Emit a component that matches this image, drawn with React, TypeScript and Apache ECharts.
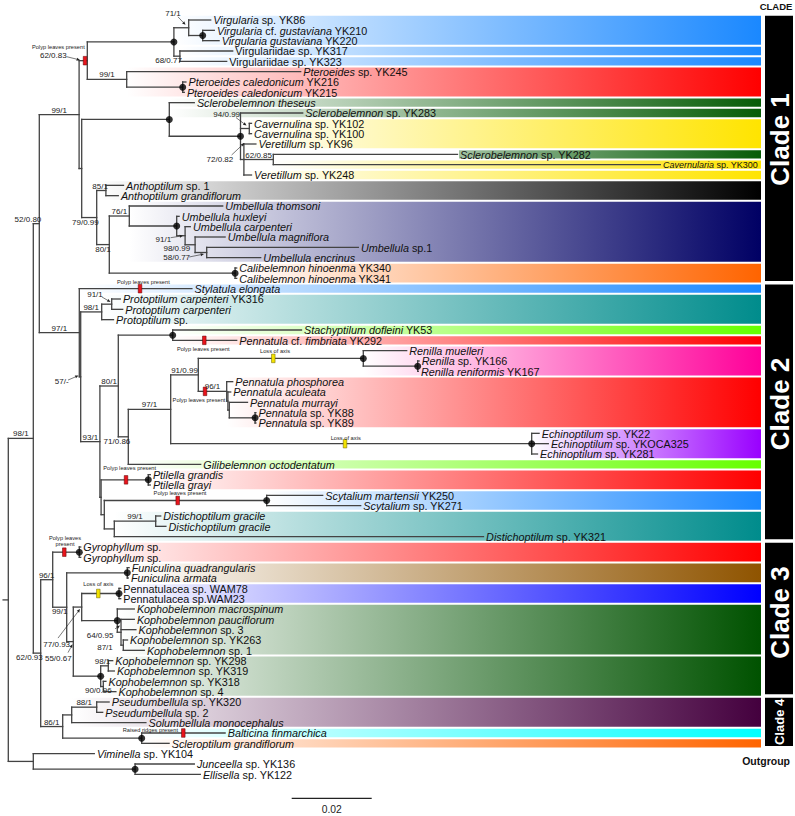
import React, { useEffect, useRef } from 'react';
import * as echarts from 'echarts';

const FONT = '"Liberation Sans", Arial, Helvetica, sans-serif';

// ---------------- data ----------------
// taxon labels (text between * * is italic)
const LEAF_NAMES = [
  '*Virgularia* sp. YK86', '*Virgularia* cf. *gustaviana* YK210', '*Virgularia gustaviana* YK220',
  'Virgulariidae sp. YK317', 'Virgulariidae sp. YK323', '*Pteroeides* sp. YK245',
  '*Pteroeides caledonicum* YK216', '*Pteroeides caledonicum* YK215', '*Sclerobelemnon theseus*',
  '*Sclerobelemnon* sp. YK283', '*Cavernulina* sp. YK102', '*Cavernulina* sp. YK100',
  '*Veretillum* sp. YK96', '*Sclerobelemnon* sp. YK282', '*Cavernularia* sp. YK300',
  '*Veretillum* sp. YK248', '*Anthoptilum* sp. 1', '*Anthoptilum grandiflorum*',
  '*Umbellula thomsoni*', '*Umbellula huxleyi*', '*Umbellula carpenteri*',
  '*Umbellula magniflora*', '*Umbellula* sp.1', '*Umbellula encrinus*',
  '*Calibelemnon hinoenma* YK340', '*Calibelemnon hinoenma* YK341', '*Stylatula elongata*',
  '*Protoptilum carpenteri* YK316', '*Protoptilum carpenteri*', '*Protoptilum* sp.',
  '*Stachyptilum dofleini* YK53', '*Pennatula* cf. *fimbriata* YK292', '*Renilla muelleri*',
  '*Renilla* sp. YK166', '*Renilla reniformis* YK167', '*Pennatula phosphorea*',
  '*Pennatula aculeata*', '*Pennatula murrayi*', '*Pennatula* sp. YK88',
  '*Pennatula* sp. YK89', '*Echinoptilum* sp. YK22', '*Echinoptilum* sp. YKOCA325',
  '*Echinoptilum* sp. YK281', '*Gilibelemnon octodentatum*', '*Ptilella grandis*',
  '*Ptilella grayi*', '*Scytalium martensii* YK250', '*Scytalium* sp. YK271',
  '*Distichoptilum gracile*', '*Distichoptilum gracile*', '*Distichoptilum* sp. YK321',
  '*Gyrophyllum* sp.', '*Gyrophyllum* sp.', '*Funiculina quadrangularis*',
  '*Funiculina armata*', 'Pennatulacea sp. WAM78', 'Pennatulacea sp.WAM23',
  '*Kophobelemnon macrospinum*', '*Kophobelemnon pauciflorum*', '*Kophobelemnon* sp. 3',
  '*Kophobelemnon* sp. YK263', '*Kophobelemnon* sp. 1', '*Kophobelemnon* sp. YK298',
  '*Kophobelemnon* sp. YK319', '*Kophobelemnon* sp. YK318', '*Kophobelemnon* sp. 4',
  '*Pseudumbellula* sp. YK320', '*Pseudumbellula* sp. 2', '*Solumbellula monocephalus*',
  '*Balticina finmarchica*', '*Scleroptilum grandiflorum*', '*Viminella* sp. YK104',
  '*Junceella* sp. YK136', '*Ellisella* sp. YK122',
];

// distance from the root (substitutions/site) at each tip
const LEAF_DEPTH = [
  0.0506, 0.0515, 0.0527, 0.0561, 0.0546, 0.0731, 0.0444, 0.0440, 0.0465, 0.0736,
  0.0608, 0.0608, 0.0619, 0.1123, 0.1630, 0.0608, 0.0288, 0.0275, 0.0536, 0.0427,
  0.0455, 0.0542, 0.0875, 0.0631, 0.0571, 0.0571, 0.0459, 0.0280, 0.0286, 0.0263,
  0.0733, 0.0571, 0.0996, 0.1027, 0.1025, 0.0561, 0.0556, 0.0598, 0.0619, 0.0619,
  0.1327, 0.1350, 0.1323, 0.0481, 0.0355, 0.0355, 0.0786, 0.0881, 0.0381, 0.0394,
  0.1188, 0.0181, 0.0181, 0.0302, 0.0300, 0.0281, 0.0281, 0.0315, 0.0315, 0.0319,
  0.0298, 0.0340, 0.0261, 0.0265, 0.0244, 0.0269, 0.0252, 0.0236, 0.0344, 0.0542,
  0.0402, 0.0215, 0.0465, 0.0480,
];

const LEAF_PARENT = [
  'VA', 'VA2', 'VA2', 'VB', 'VB', 'PTE', 'PC', 'PC', 'SC', 'C1',
  'CAV', 'CAV', 'N72', 'N62c', 'N62c', 'N72', 'ANT', 'ANT', 'UMB', 'U2',
  'U3', 'U4', 'U5', 'U5', 'CAL', 'CAL', 'N97', 'N91', 'N91', 'N98p',
  'STA', 'STA', 'REN', 'RP', 'RP', 'PEN', 'PX', 'PM', 'PP', 'PP',
  'ECHO', 'ECHO', 'ECHO', 'N71', 'PTI', 'PTI', 'SCY', 'SCY', 'DG', 'DG',
  'DIS', 'GYR', 'GYR', 'FUN', 'FUN', 'WAM', 'WAM', 'K1', 'K64', 'K64',
  'K87', 'K87', 'K98', 'K98', 'K90', 'K90', 'N88', 'N88', 'PS', 'BS',
  'BS', 'OUT', 'JE', 'JE',
];

// internal nodes
const NODE_IDS = [
  'R', 'N98', 'OUT', 'JE', 'N52', 'N62b', 'N99', 'N97', 'N62a', 'NX',
  'VIR', 'VA', 'VA2', 'VB', 'PTE', 'PC', 'SC', 'C1', 'CAV', 'N72',
  'N62c', 'N79', 'ANT', 'N80', 'UMB', 'U2', 'U3', 'U4', 'U5', 'CAL',
  'N57', 'N98p', 'N91', 'N93', 'N80b', 'STA', 'N71', 'N97b', 'N91b', 'REN',
  'RP', 'PEN', 'PX', 'PM', 'PP', 'ECHO', 'NPSD', 'PTI', 'NSD', 'SCY',
  'DIS', 'DG', 'N96', 'GYR', 'N99c', 'FUN', 'N55', 'N77', 'WAM', 'K1',
  'K64', 'K87', 'KG2', 'K98', 'K90', 'N86', 'PS', 'N88', 'BS',
];
const NODE_PARENT = [
  null, 'R', 'R', 'OUT', 'N98', 'N98', 'N52', 'N52', 'N99', 'N99',
  'N62a', 'VIR', 'VA', 'VIR', 'N62a', 'PTE', 'NX', 'SC', 'C1', 'C1',
  'N72', 'NX', 'N79', 'N79', 'N80', 'UMB', 'U2', 'U3', 'U4', 'N80',
  'N97', 'N57', 'N98p', 'N57', 'N93', 'N80b', 'N80b', 'N71', 'N97b', 'N91b',
  'REN', 'N91b', 'PEN', 'PX', 'PM', 'N97b', 'N93', 'NPSD', 'NPSD', 'NSD',
  'NSD', 'DIS', 'N62b', 'N96', 'N96', 'N99c', 'N99c', 'N55', 'N77', 'N77',
  'K1', 'K64', 'N55', 'KG2', 'KG2', 'N62b', 'N86', 'PS', 'N86',
];
const NODE_DEPTH = [
  0, 0.00625, 0.00625, 0.0317, 0.00775, 0.0081, 0.0177, 0.01775, 0.01975, 0.01835,
  0.0414, 0.0451, 0.0486, 0.0429, 0.0296, 0.0436, 0.04025, 0.05805, 0.06025, 0.0589,
  0.06625, 0.0221, 0.0244, 0.02525, 0.03025, 0.0421, 0.0442, 0.0467, 0.0496, 0.0567,
  0.0181, 0.02335, 0.02585, 0.0229, 0.0275, 0.0411, 0.03, 0.0406, 0.0475, 0.08875,
  0.10235, 0.0546, 0.0549, 0.05525, 0.0617, 0.13085, 0.0232, 0.035, 0.024, 0.0646,
  0.0265, 0.03685, 0.0111, 0.01775, 0.0146, 0.02975, 0.01625, 0.01835, 0.02768, 0.02725,
  0.02818, 0.02875, 0.0231, 0.025, 0.02375, 0.0136, 0.01585, 0.0221, 0.03335,
];

// nodes marked with a filled circle
const DOT_NODES = [
  'VIR', 'VA2', 'PC', 'SC', 'C1', 'U2', 'CAL', 'STA', 'REN', 'RP', 'PP', 'ECHO',
  'PTI', 'SCY', 'GYR', 'FUN', 'WAM', 'K1', 'KG2', 'BS', 'JE',
];

// support values: node, text, placement (a = above, b = below, c = callout)
const SUPPORT = [
  ['N98', '98/1', 'a'], ['N52', '52/0.80', 'a'], ['N99', '99/1', 'a'], ['N62a', '62/0.83', 'c'],
  ['VA', '71/1', 'c'], ['VB', '68/0.77', 'b'], ['PTE', '99/1', 'a'], ['CAV', '94/0.99', 'c'],
  ['N72', '72/0.82', 'c'], ['N62c', '62/0.85', 'a'], ['ANT', '85/1', 'a'], ['N79', '79/0.99', 'b'],
  ['N80', '80/1', 'b'], ['UMB', '76/1', 'a'], ['U3', '91/1', 'c'], ['U4', '98/0.99', 'c'],
  ['U5', '58/0.77', 'c'], ['N97', '97/1', 'a'], ['N91', '91/1', 'c'], ['N98p', '98/1', 'a'],
  ['N57', '57/-', 'c'], ['N93', '93/1', 'a'], ['N80b', '80/1', 'a'], ['N71', '71/0.86', 'b'],
  ['N97b', '97/1', 'a'], ['N91b', '91/0.99', 'a'], ['PEN', '96/1', 'a'], ['DG', '99/1', 'a'],
  ['N62b', '62/0.93', 'b'], ['N96', '96/1', 'a'], ['N99c', '99/1', 'b'], ['N77', '77/0.93', 'c'],
  ['N55', '55/0.67', 'c'], ['K64', '64/0.95', 'c'], ['K87', '87/1', 'c'], ['K98', '98/1', 'a'],
  ['K90', '90/0.96', 'c'], ['N86', '86/1', 'a'], ['N88', '88/1', 'a'],
];

// character changes mapped on branches: branch owner, position, kind, label
const TRAITS = [
  ['N62a', 0.01918, 'gain', 'Polyp leaves present'],
  ['L26', 0.03293, 'gain', 'Polyp leaves present'],
  ['L31', 0.0490, 'gain', 'Polyp leaves present'],
  ['REN', 0.06625, 'loss', 'Loss of axis'],
  ['PEN', 0.04918, 'gain', 'Polyp leaves present'],
  ['ECHO', 0.08418, 'loss', 'Loss of axis'],
  ['PTI', 0.02943, 'gain', 'Polyp leaves present'],
  ['SCY', 0.04235, 'gain', 'Polyp leaves present'],
  ['GYR', 0.0140, 'gain', 'Polyp leaves\npresent'],
  ['WAM', 0.0225, 'loss', 'Loss of axis'],
  ['L69', 0.04375, 'gain', 'Raised ridges present'],
];

// coloured taxon bands: first tip, last tip, colour, node where the band starts
const BANDS = [
  [0, 2, '#1a88ff', 'VIR'], [3, 3, '#1a88ff', 'VB'], [4, 4, '#1a88ff', 'VB'],
  [5, 7, '#ff0000', 'PTE'], [8, 8, '#075c07', 'SC'], [9, 9, '#075c07', 'SC'],
  [10, 12, '#ffe400', 'C1'], [13, 13, '#075c07', 'N62c'], [14, 14, '#ffe400', 'N62c'],
  [15, 15, '#ffe400', 'N72'], [16, 17, '#000000', 'N79'], [18, 23, '#000064', 'UMB'],
  [24, 25, '#ff6400', 'CAL'], [26, 26, '#1a88ff', 'N97'], [27, 29, '#008c8c', 'N98p'],
  [30, 30, '#66ff00', 'STA'], [31, 31, '#ff0000', 'STA'], [32, 34, '#ff0099', 'REN'],
  [35, 39, '#ff0000', 'PEN'], [40, 42, '#9900ff', 'ECHO'], [43, 43, '#66ff00', 'N71'],
  [44, 45, '#ff0000', 'PTI'], [46, 47, '#1a88ff', 'SCY'], [48, 50, '#008c8c', 'DIS'],
  [51, 52, '#ff0000', 'GYR'], [53, 54, '#8f5400', 'FUN'], [55, 56, '#0000ff', 'WAM'],
  [57, 61, '#005200', 'K1'], [62, 65, '#005200', 'KG2'], [66, 68, '#44003e', 'PS'],
  [69, 69, '#00ffff', 'BS'], [70, 70, '#ff6400', 'BS'],
];

const CLADES = [['Clade 1', 0, 25], ['Clade 2', 26, 50], ['Clade 3', 51, 65], ['Clade 4', 66, 70]];
const SCALE_LEN = 0.02;
const SCALE_LABEL = '0.02';

// ---------------- styling / placement ----------------
const X_MAX = 0.188175;
const ROOT_STUB = -0.0013;
const LINE_COLOR = '#434343';
const LINE_W = 1.3;
const LEAF_FONT = 10.8;
const LEAF_FONT_OVERRIDE: Record<number, number> = { 14: 9 };
const SUPPORT_FONT = 8;
const TRAIT_FONT = 5.7;
// bands whose visible part begins after the tip label's branch end (index into BANDS)
const BAND_VISIBLE_FROM_TIP: Record<number, boolean> = { 7: true };
// callout placement: label centre offset [dx,dy] and arrow [x1,y1,x2,y2] (px, relative to node)
const CALLOUT: Record<string, { l: number[]; a?: number[] }> = {
  VA: { l: [-15.7, -13.9], a: [-10.7, -10.9, -3.2, -2.9] },
  N62a: { l: [-34, -5], a: [-20.6, -4, -7.3, -0.7] },
  CAV: { l: [-22.6, -13.9], a: [-13.3, -10.9, -2.8, -2.9] },
  N72: { l: [-24, -0.2], a: [-12.3, -4.5, 0.5, -16.5] },
  U3: { l: [-21.7, 3.3], a: [-14.5, 2, -2, 0] },
  U4: { l: [-18.3, 3.6] },
  U5: { l: [-30, 4.8], a: [-17.5, 4.5, -2.7, 1.5] },
  N91: { l: [-16.7, -9.2], a: [-9.8, -7.2, -1.2, -2.2] },
  N57: { l: [-19, 5], a: [-12.7, 3.3, -2.2, -1.2] },
  N77: { l: [-25, 37], a: [-23.7, 31, -1.7, 2] },
  N55: { l: [-15, 16.4], a: [-5.3, 11, -0.8, 2.7] },
  K64: { l: [-21, 3.3], a: [-6, -3.4, -1, -6.7] },
  K87: { l: [-18.3, 2.2] },
  K90: { l: [-5, 3.9] },
};
const TRAIT_LABEL_OFFSET = [
  [-26.7, -14], [3.3, -6.7], [-1, 8.3], [1.7, -7.6], [-6, 8.6], [0.7, -6],
  [3.7, -11.5], [2.3, -7.7], [0.7, -11.4], [0, -9.2], [-33, -3],
];
const CLADE_FONT = [26, 26, 26, 13];
const CLADE_TEXT_SHIFT = [-9, -8, -6, 0];
const SCALE_X0 = 0.07085;
const SCALE_Y = 75.32;

// ---------------- helpers ----------------
type NodeInfo = { depth: number; parent: string | null; children: string[]; y: number; leaf: boolean };

function buildTree() {
  const info = new Map<string, NodeInfo>();
  NODE_IDS.forEach((id, k) =>
    info.set(id, { depth: NODE_DEPTH[k], parent: NODE_PARENT[k], children: [], y: NaN, leaf: false })
  );
  LEAF_NAMES.forEach((_, i) =>
    info.set('L' + i, { depth: LEAF_DEPTH[i], parent: LEAF_PARENT[i], children: [], y: i, leaf: true })
  );
  info.forEach((v, k) => {
    if (v.parent) info.get(v.parent)!.children.push(k);
  });
  const yOf = (id: string): number => {
    const n = info.get(id)!;
    if (!isNaN(n.y)) return n.y;
    const ys = n.children.map(yOf);
    n.y = (Math.min(...ys) + Math.max(...ys)) / 2;
    return n.y;
  };
  yOf('R');
  return info;
}

let measureCtx: CanvasRenderingContext2D | null = null;
function textWidth(t: string, size: number) {
  if (!measureCtx) measureCtx = document.createElement('canvas').getContext('2d');
  if (!measureCtx) return t.length * size * 0.5;
  measureCtx.font = `${size}px ${FONT}`;
  return measureCtx.measureText(t).width;
}

function toRich(s: string) {
  return s.replace(/\*([^*]+)\*/g, '{i|$1}');
}

function arrowEls(x1: number, y1: number, x2: number, y2: number) {
  const dx = x2 - x1, dy = y2 - y1;
  const len = Math.hypot(dx, dy) || 1;
  const ux = dx / len, uy = dy / len;
  const bx = x2 - ux * 3.4, by = y2 - uy * 3.4;
  const px = -uy * 1.5, py = ux * 1.5;
  return [
    { type: 'line', shape: { x1, y1, x2: bx, y2: by }, style: { stroke: '#222', lineWidth: 0.6 } },
    { type: 'polygon', shape: { points: [[x2, y2], [bx + px, by + py], [bx - px, by - py]] }, style: { fill: '#222' } },
  ];
}

function buildOption() {
  const info = buildTree();

  // branch segments [x1, y1, x2, y2]
  const segs: number[][] = [];
  info.forEach((n) => {
    const pd = n.parent ? info.get(n.parent)!.depth : ROOT_STUB;
    segs.push([pd, n.y, n.depth, n.y]);
    if (!n.leaf) {
      const ys = n.children.map((c) => info.get(c)!.y);
      segs.push([n.depth, Math.min(...ys), n.depth, Math.max(...ys)]);
    }
  });

  const bandSeries = {
    type: 'custom', z: 1, silent: true,
    data: BANDS.map((b) => [info.get(b[3] as string)!.depth, b[0] as number]),
    renderItem: (params: any, api: any) => {
      const k = params.dataIndex;
      const [first, last, color, start] = BANDS[k] as [number, number, string, string];
      const a = api.coord([info.get(start)!.depth, first - 0.5]);
      const b = api.coord([X_MAX, last + 0.5]);
      let x0 = a[0];
      if (BAND_VISIBLE_FROM_TIP[k]) x0 = api.coord([LEAF_DEPTH[first], first])[0] + 1.5;
      return {
        type: 'rect',
        shape: { x: x0, y: a[1] + 1, width: b[0] - x0, height: b[1] - a[1] - 2 },
        style: {
          fill: {
            type: 'linear', x: a[0], y: 0, x2: b[0], y2: 0, global: true,
            colorStops: [{ offset: 0, color: '#ffffff' }, { offset: 1, color }],
          },
        },
      };
    },
  };

  const branchSeries = {
    type: 'custom', z: 3, silent: true,
    data: segs,
    renderItem: (params: any, api: any) => {
      const s = segs[params.dataIndex];
      const p1 = api.coord([s[0], s[1]]);
      const p2 = api.coord([s[2], s[3]]);
      return {
        type: 'line',
        shape: { x1: p1[0], y1: p1[1], x2: p2[0], y2: p2[1] },
        style: { stroke: LINE_COLOR, lineWidth: LINE_W, lineCap: 'square' },
      };
    },
  };

  const dotSeries = {
    type: 'scatter', z: 5, silent: true,
    symbol: 'circle', symbolSize: 7,
    itemStyle: { color: '#000' },
    data: DOT_NODES.map((id) => [info.get(id)!.depth, info.get(id)!.y]),
  };

  const traitSeries = {
    type: 'custom', z: 4, silent: true,
    data: TRAITS.map((t) => [t[1] as number, info.get(t[0] as string)!.y]),
    renderItem: (params: any, api: any) => {
      const i = params.dataIndex;
      const [owner, depth, kind, label] = TRAITS[i] as [string, number, string, string];
      const p = api.coord([depth, info.get(owner)!.y]);
      const off = TRAIT_LABEL_OFFSET[i];
      return {
        type: 'group',
        children: [
          {
            type: 'rect',
            shape: { x: p[0] - 1.8, y: p[1] - 4.3, width: 3.6, height: 8.6 },
            style: {
              fill: kind === 'gain' ? '#e8141c' : '#f2e200',
              stroke: kind === 'gain' ? '#5a0000' : '#6b6000',
              lineWidth: 0.5,
            },
          },
          {
            type: 'text',
            x: p[0] + off[0], y: p[1] + off[1],
            style: {
              text: label, fontSize: TRAIT_FONT, fontFamily: FONT, fill: '#222',
              align: 'center', verticalAlign: 'middle', lineHeight: 6,
            },
          },
        ],
      };
    },
  };

  const leafSeries = {
    type: 'custom', z: 6, silent: true,
    data: LEAF_NAMES.map((_, i) => [LEAF_DEPTH[i], i]),
    renderItem: (params: any, api: any) => {
      const i = params.dataIndex;
      const p = api.coord([LEAF_DEPTH[i], i]);
      const size = LEAF_FONT_OVERRIDE[i] ?? LEAF_FONT;
      return {
        type: 'text',
        x: p[0] + 2.6, y: p[1] + 0.4,
        style: {
          text: toRich(LEAF_NAMES[i]),
          fontSize: size, fontFamily: FONT, fill: '#111',
          align: 'left', verticalAlign: 'middle',
          rich: { i: { fontStyle: 'italic', fontSize: size, fontFamily: FONT, fill: '#111' } },
        },
      };
    },
  };

  const supportSeries = {
    type: 'custom', z: 6, silent: true,
    data: SUPPORT.map((s) => [info.get(s[0])!.depth, info.get(s[0])!.y]),
    renderItem: (params: any, api: any) => {
      const [id, text, mode] = SUPPORT[params.dataIndex];
      const n = info.get(id)!;
      const pn = api.coord([n.depth, n.y]);
      const children: any[] = [];
      let cx: number, cy: number;
      if (mode === 'c') {
        const c = CALLOUT[id];
        cx = pn[0] + c.l[0];
        cy = pn[1] + c.l[1];
        if (c.a) children.push(...arrowEls(pn[0] + c.a[0], pn[1] + c.a[1], pn[0] + c.a[2], pn[1] + c.a[3]));
      } else {
        const pp = api.coord([info.get(n.parent!)!.depth, n.y]);
        const w = textWidth(text, SUPPORT_FONT);
        const mid = (pn[0] + pp[0]) / 2;
        cx = Math.min(mid, pn[0] + 2 - w / 2);
        cy = mode === 'b' ? pn[1] + 4.5 : pn[1] - 4.5;
      }
      children.push({
        type: 'text', x: cx, y: cy,
        style: {
          text, fontSize: SUPPORT_FONT, fontFamily: FONT, fill: '#222',
          align: 'center', verticalAlign: 'middle',
        },
      });
      return { type: 'group', children };
    },
  };

  const cladeSeries = {
    type: 'custom', z: 6, silent: true,
    data: CLADES.map((c) => [X_MAX, c[1] as number]),
    renderItem: (params: any, api: any) => {
      const i = params.dataIndex;
      const [label, first, last] = CLADES[i] as [string, number, number];
      const a = api.coord([X_MAX, first - 0.5]);
      const b = api.coord([X_MAX, last + 0.5]);
      const x0 = a[0] + 4;
      const y0 = a[1] + 1;
      const y1 = b[1] - 2.5;
      return {
        type: 'group',
        children: [
          { type: 'rect', shape: { x: x0, y: y0, width: 28, height: y1 - y0 }, style: { fill: '#000' } },
          {
            type: 'text', x: x0 + 14.5, y: (y0 + y1) / 2 + CLADE_TEXT_SHIFT[i], rotation: Math.PI / 2,
            style: {
              text: label, fontSize: CLADE_FONT[i], fontWeight: 'bold', fontFamily: FONT,
              fill: '#fff', align: 'center', verticalAlign: 'middle',
            },
          },
        ],
      };
    },
  };

  const scaleSeries = {
    type: 'custom', z: 6, silent: true,
    data: [[SCALE_X0, SCALE_Y]],
    renderItem: (params: any, api: any) => {
      const p1 = api.coord([SCALE_X0, SCALE_Y]);
      const p2 = api.coord([SCALE_X0 + SCALE_LEN, SCALE_Y]);
      return {
        type: 'group',
        children: [
          { type: 'line', shape: { x1: p1[0], y1: p1[1], x2: p2[0], y2: p2[1] }, style: { stroke: '#222', lineWidth: 1.3 } },
          {
            type: 'text', x: (p1[0] + p2[0]) / 2, y: p1[1] + 11,
            style: { text: SCALE_LABEL, fontSize: 10.3, fontFamily: FONT, fill: '#222', align: 'center', verticalAlign: 'middle' },
          },
        ],
      };
    },
  };

  return {
    animation: false,
    backgroundColor: '#ffffff',
    grid: { left: 8.3, right: 34, top: 14.835, bottom: 36.5, containLabel: false },
    xAxis: { type: 'value', min: 0, max: X_MAX, show: false },
    yAxis: { type: 'value', min: -0.5, max: 73.5, inverse: true, show: false },
    graphic: [
      {
        type: 'text', x: 776, y: 6.5,
        style: { text: 'CLADE', fontSize: 9.5, fontWeight: 'bold', fontFamily: FONT, fill: '#111', align: 'center', verticalAlign: 'middle' },
      },
      {
        type: 'text', x: 790, y: 761,
        style: { text: 'Outgroup', fontSize: 10.5, fontWeight: 'bold', fontFamily: FONT, fill: '#111', align: 'right', verticalAlign: 'middle' },
      },
    ],
    series: [bandSeries, branchSeries, traitSeries, dotSeries, leafSeries, supportSeries, cladeSeries, scaleSeries],
  };
}

export default function App() {
  const ref = useRef<HTMLDivElement>(null);
  useEffect(() => {
    if (!ref.current) return;
    const chart = echarts.init(ref.current, null, { renderer: 'svg' });
    chart.setOption(buildOption() as any);
    return () => chart.dispose();
  }, []);
  return (
    <div
      ref={ref}
      style={{ position: 'absolute', left: 0, top: 0, width: 795, height: 816, background: '#fff' }}
    />
  );
}
